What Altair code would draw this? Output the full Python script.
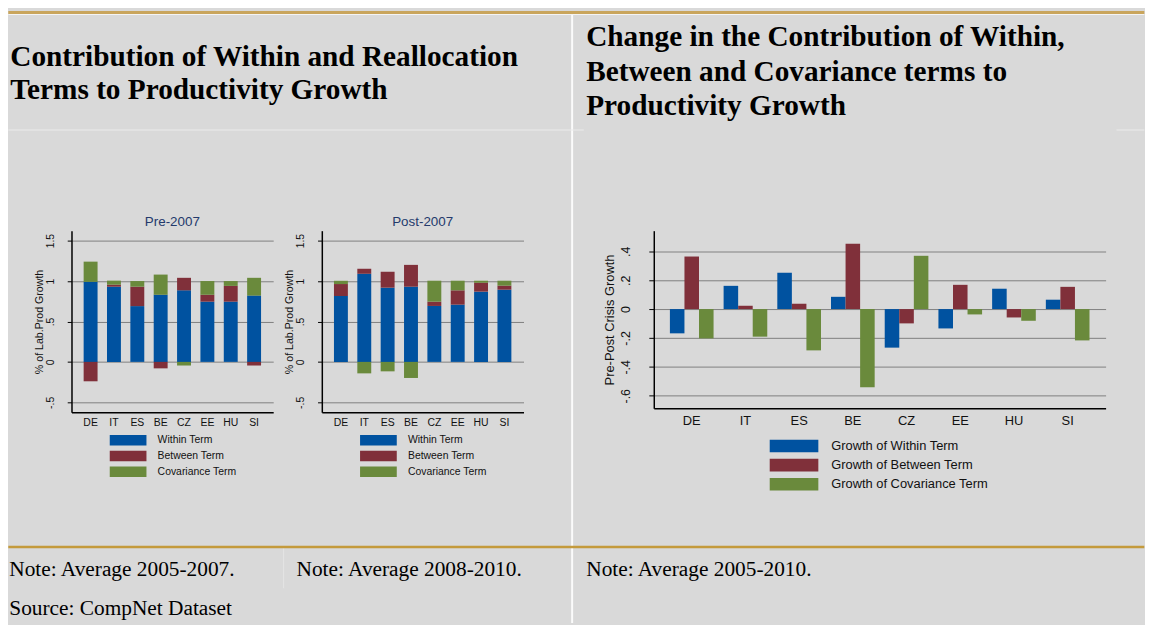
import altair as alt
import pandas as pd

# ---------------- data ----------------
countries = ["DE", "IT", "ES", "BE", "CZ", "EE", "HU", "SI"]
terms = ["Within Term", "Between Term", "Covariance Term"]
growth_terms = ["Growth of Within Term", "Growth of Between Term", "Growth of Covariance Term"]

pre_within = [0.99, 0.93, 0.69, 0.83, 0.885, 0.745, 0.745, 0.82]
pre_between = [-0.24, 0.025, 0.24, -0.08, 0.155, 0.085, 0.195, -0.045]
pre_cov = [0.25, 0.05, 0.07, 0.25, -0.045, 0.17, 0.06, 0.22]

post_within = [0.815, 1.09, 0.918, 0.93, 0.692, 0.708, 0.869, 0.893]
post_between = [0.148, 0.062, 0.197, 0.27, 0.053, 0.177, 0.11, 0.05]
post_cov = [0.04, -0.142, -0.117, -0.199, 0.259, 0.119, 0.025, 0.061]

chg_within = [-0.168, 0.161, 0.251, 0.085, -0.267, -0.134, 0.141, 0.065]
chg_between = [0.364, 0.023, 0.037, 0.452, -0.099, 0.168, -0.058, 0.154]
chg_cov = [-0.203, -0.191, -0.286, -0.541, 0.369, -0.037, -0.081, -0.217]

panel_titles = ["Pre-2007", "Post-2007"]
left_heading = ["Contribution of Within and Reallocation", "Terms to Productivity Growth"]
right_heading = ["Change in the Contribution of Within,", "Between and Covariance terms to", "Productivity Growth"]
notes = ["Note: Average 2005-2007.", "Note: Average 2008-2010.", "Note: Average 2005-2010."]
source_note = "Source: CompNet Dataset"
y_title_left = "% of Lab.Prod Growth"
y_title_right = "Pre-Post Crisis Growth"

colors = ["#0052a0", "#80303a", "#6a8a3c"]

SANS = "Liberation Sans"
SERIF = "Liberation Serif"
BG = "#d9d9d9"
LABEL_EXPR = "(datum.value < 0 ? '-' : '') + replace(format(abs(datum.value), '.1~f'), '0.', '.')"
PW, PH = 203.3, 183


def long_df(labels, w, b, c):
    rows = []
    for i, ct in enumerate(countries):
        for k, v in enumerate([w[i], b[i], c[i]]):
            rows.append({"country": ct, "term": labels[k], "value": v, "order": k})
    return pd.DataFrame(rows)


one = pd.DataFrame({"k": [0]})


def rect(x, x2, y, y2, color, opacity=1.0):
    return alt.Chart(one).mark_rect(color=color, opacity=opacity).encode(
        x=alt.value(x), x2=alt.value(x2), y=alt.value(y), y2=alt.value(y2))


def text(lines, x, y, size, weight="normal", font=SERIF, line_height=None,
         align="left", color="#000"):
    kw = dict(align=align, baseline="alphabetic", font=font, fontSize=size,
              fontWeight=weight, color=color)
    if line_height:
        kw["lineHeight"] = line_height
    return alt.Chart(one).mark_text(**kw).encode(
        x=alt.value(x), y=alt.value(y), text=alt.value(lines))


def stacked_panel(df, title, decorations=None):
    bars = alt.Chart(df).mark_bar().encode(
        x=alt.X("country:N", sort=countries, title=None,
                scale=alt.Scale(paddingInner=0.404, paddingOuter=0.52),
                axis=alt.Axis(labelAngle=0, ticks=False, tickSize=0, labelPadding=5,
                              labelFont=SANS, labelFontSize=10.5, labelColor="#111",
                              domainColor="black", domainWidth=1.5, grid=False)),
        y=alt.Y("value:Q", stack="zero",
                scale=alt.Scale(domain=[-0.623, 1.623], nice=False, zero=False),
                axis=alt.Axis(values=[-0.5, 0, 0.5, 1, 1.5], labelExpr=LABEL_EXPR,
                              grid=True, gridColor="#7f7f7f", gridWidth=1,
                              domainColor="black", domainWidth=1.5,
                              tickColor="black", tickSize=4.3, tickWidth=1,
                              labelAngle=270, labelAlign="center", labelBaseline="alphabetic",
                              labelPadding=14, labelFont=SANS, labelFontSize=10.5, labelColor="#111",
                              title=y_title_left, titleFont=SANS, titleFontSize=10.7,
                              titleFontWeight="normal", titleColor="#111", titlePadding=1)),
        color=alt.Color("term:N", scale=alt.Scale(domain=terms, range=colors),
                        legend=alt.Legend(orient="none", legendX=38.3 + 13.25, legendY=205.8, title=None,
                                          symbolType="M-3.524,-1H3.524V1H-3.524Z", symbolSize=110.25,
                                          symbolStrokeWidth=0, symbolOpacity=1,
                                          labelFont=SANS, labelFontSize=10.5, labelColor="#111",
                                          labelOffset=24.25, rowPadding=4.8, padding=0)),
        order=alt.Order("order:Q"),
    )
    head = text(title, PW / 2, -4.5, 13.5, font=SANS, align="center", color="#243a6c")
    layers = (decorations or []) + [bars, head]
    return alt.layer(*layers).properties(width=PW, height=PH)


# decorations, positioned relative to the Pre-2007 plot origin (page 71.7, 229.5)
decor = [
    rect(-63.7, 1081.3, -221.5, 395.5, BG, 0.0),
    rect(-63.7, 1081.3, -221.5, -218.5, "#c9a55c"),
    rect(-63.7, 1081.3, -218.5, -217.3, "#f4f4f4"),
    rect(503.6, 505.6, -217.3, 395.5, "#fbfbfb"),
    rect(-63.7, 516.3, -102.0, -101.0, "#ececec"),
    rect(1053.3, 1081.3, -102.0, -101.0, "#ececec"),
    rect(213.3, 214.3, 320.0, 360.5, "#e4e4e4"),
    rect(-63.7, 1081.3, 317.5, 320.2, "#c49a3c"),
    text(left_heading, -61.7, -166.2, 29.5, "bold", line_height=33),
    text(right_heading, 518.8, -186.2, 29.5, "bold", line_height=35),
    text(notes[0], -62.7, 348.5, 21.5),
    text(notes[1], 226.8, 348.5, 21.5),
    text(notes[2], 518.8, 348.5, 21.5),
    text(source_note, -62.7, 387.0, 21.5),
]

pre = stacked_panel(long_df(terms, pre_within, pre_between, pre_cov), panel_titles[0], decor)
post = stacked_panel(long_df(terms, post_within, post_between, post_cov), panel_titles[1])

spacer = alt.Chart(one).mark_rect(opacity=0).encode(
    x=alt.value(0), x2=alt.value(1), y=alt.value(0), y2=alt.value(1)
).properties(width=34.0, height=179)

chg_df = long_df(growth_terms, chg_within, chg_between, chg_cov)
right = alt.Chart(chg_df).mark_bar().encode(
    x=alt.X("country:N", sort=countries, title=None,
            scale=alt.Scale(paddingInner=0.187, paddingOuter=0.30),
            axis=alt.Axis(labelAngle=0, ticks=False, tickSize=0, labelPadding=6,
                          labelFont=SANS, labelFontSize=13, labelColor="#111",
                          domainColor="black", domainWidth=1.5, grid=False)),
    xOffset=alt.XOffset("term:N", sort=growth_terms,
                        scale=alt.Scale(paddingInner=0, paddingOuter=0)),
    y=alt.Y("value:Q",
            scale=alt.Scale(domain=[-0.687, 0.543], nice=False, zero=False),
            axis=alt.Axis(values=[-0.6, -0.4, -0.2, 0, 0.2, 0.4], labelExpr=LABEL_EXPR,
                          grid=True, gridColor="#7f7f7f", gridWidth=1,
                          domainColor="black", domainWidth=1.5,
                          tickColor="black", tickSize=5, tickWidth=1,
                          labelAngle=270, labelAlign="center", labelBaseline="alphabetic",
                          labelPadding=19, labelFont=SANS, labelFontSize=12.5, labelColor="#111",
                          title=y_title_right, titleFont=SANS, titleFontSize=13,
                          titleFontWeight="normal", titleColor="#111", titlePadding=4)),
    color=alt.Color("term:N", scale=alt.Scale(domain=growth_terms, range=colors),
                    legend=alt.Legend(orient="none", legendX=113.7 + 18.15 + 3, legendY=210.5, title=None,
                                      symbolType="M-3.858,-1H3.858V1H-3.858Z", symbolSize=161.3,
                                      symbolStrokeWidth=0, symbolOpacity=1,
                                      labelFont=SANS, labelFontSize=13, labelColor="#111",
                                      labelOffset=31.0, rowPadding=5.3, padding=0)),
).properties(width=455.4, height=179)

chart = alt.hconcat(pre, post, spacer, right, spacing=48.3, bounds="flush").resolve_scale(
    color="independent"
).properties(background=BG, padding=0).configure_view(strokeWidth=0)

chart.save("out.html", embed_options={"renderer": "svg", "actions": False})
